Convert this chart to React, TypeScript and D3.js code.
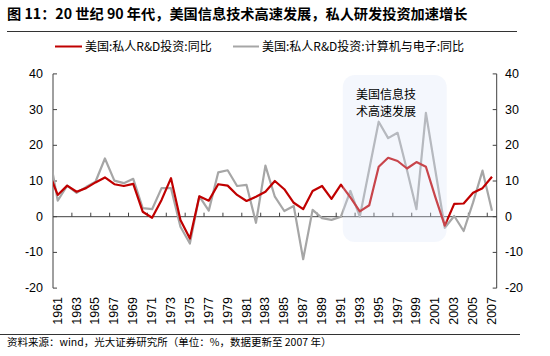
import React from "react";
import * as d3 from "d3";

const years: number[] = d3.range(1960, 2008);
const tickYears: number[] = d3.range(1961, 2008, 2);
const yTicks: number[] = [-20, -10, 0, 10, 20, 30, 40];

const seriesRedName = "美国:私人R&D投资:同比";
const seriesGrayName = "美国:私人R&D投资:计算机与电子:同比";

const redValues: number[] = [
  12.8, 6.1, 8.7, 7.0, 8.0, 9.6, 11.0, 9.1, 8.6, 9.2,
  1.4, -0.3, 4.7, 10.8, -0.9, -6.1, 5.7, 4.5, 9.1, 8.7,
  6.1, 4.4, 5.6, 7.0, 10.0, 7.7, 3.9, 2.1, 7.2, 8.6,
  5.0, 9.0, 5.4, 1.5, 3.2, 14.0, 16.5, 15.6, 13.5, 15.3,
  14.0, 5.5, -2.5, 3.6, 3.7, 6.7, 8.0, 11.2,
];

const grayValues: number[] = [
  19.0, 4.5, 8.7, 6.7, 8.3, 9.8, 16.3, 10.1, 9.4, 10.6,
  2.4, 2.1, 8.0, 8.0, -2.8, -7.5, 5.7, 1.7, 12.4, 13.0,
  8.6, 8.9, -1.7, 14.3, 5.6, 1.6, 3.0, -11.9, 1.9, -0.4,
  -0.9, 0.0, 7.2, 0.0, 13.3, 26.6, 22.0, 23.5, 13.0, 2.1,
  29.1, 13.0, -3.1, 0.2, -4.0, 4.0, 12.9, 1.7,
];

const highlightStart = 1991.2;
const highlightEnd = 2002.2;
const highlightLines = ["美国信息技", "术高速发展"];

const title = "图 11：20 世纪 90 年代，美国信息技术高速发展，私人研发投资加速增长";
const source = "资料来源：wind，光大证券研究所（单位：%，数据更新至 2007 年）";

const FONT = "'Liberation Sans', 'Noto Sans CJK SC', sans-serif";
const CJK = "'Noto Sans CJK SC', sans-serif";

export default function App() {
  const W = 550;
  const H = 356;
  const left = 53;
  const right = 496.7;
  const top = 73.9;
  const bottom = 288.1;

  const x = d3.scaleLinear().domain([1960.5, 2007.5]).range([left, right]);
  const y = d3.scaleLinear().domain([-20, 40]).range([bottom, top]);

  const line = d3
    .line<number>()
    .x((_, i) => x(years[i]))
    .y((d) => y(d));

  const boundaryTicks = d3.range(1962.5, 2007, 2);

  return (
    <svg
      width={W}
      height={H}
      style={{ position: "absolute", left: 0, top: 0, background: "#fff" }}
    >
      <defs>
        <clipPath id="plotClip">
          <rect x={left} y={top - 10} width={right - left} height={bottom - top + 20} />
        </clipPath>
      </defs>

      {/* title */}
      <text x={7} y={19} fontFamily={CJK} fontSize={14.2} fontWeight={700} fill="#000">
        {title}
      </text>
      <line x1={7} x2={517} y1={31.5} y2={31.5} stroke="#333" strokeWidth={1} />

      {/* legend */}
      <line x1={55} x2={82} y1={46.5} y2={46.5} stroke="#C00000" strokeWidth={2} />
      <text x={85} y={50.5} fontFamily={CJK} fontSize={12} fill="#000">
        {seriesRedName}
      </text>
      <line x1={233} x2={259} y1={46.5} y2={46.5} stroke="#A6A6A6" strokeWidth={2} />
      <text x={262} y={50.5} fontFamily={CJK} fontSize={12} fill="#000">
        {seriesGrayName}
      </text>

      {/* left axis */}
      <line x1={left} x2={left} y1={top} y2={bottom} stroke="#404040" strokeWidth={1} />
      {yTicks.map((t) => (
        <g key={"l" + t}>
          <line x1={left} x2={left + 4} y1={y(t)} y2={y(t)} stroke="#404040" />
          <text
            x={43}
            y={y(t)}
            textAnchor="end"
            dominantBaseline="central"
            fontFamily={FONT}
            fontSize={12.5}
            fill="#000"
          >
            {t}
          </text>
        </g>
      ))}

      {/* right axis */}
      <line x1={right} x2={right} y1={top} y2={bottom} stroke="#404040" strokeWidth={1} />
      {yTicks.map((t) => (
        <g key={"r" + t}>
          <line x1={right - 4} x2={right} y1={y(t)} y2={y(t)} stroke="#404040" />
          <text
            x={505}
            y={y(t)}
            textAnchor="start"
            dominantBaseline="central"
            fontFamily={FONT}
            fontSize={12.5}
            fill="#000"
          >
            {t}
          </text>
        </g>
      ))}

      {/* x axis at zero */}
      <line x1={left} x2={right} y1={y(0)} y2={y(0)} stroke="#404040" strokeWidth={1} />
      {boundaryTicks.map((b) => (
        <line key={"xt" + b} x1={x(b)} x2={x(b)} y1={y(0) - 4} y2={y(0)} stroke="#404040" />
      ))}

      {/* lines */}
      <g clipPath="url(#plotClip)">
        <path d={line(grayValues) || ""} fill="none" stroke="#A6A6A6" strokeWidth={2.2} strokeLinejoin="round" />
        <path d={line(redValues) || ""} fill="none" stroke="#C00000" strokeWidth={2.2} strokeLinejoin="round" />
      </g>

      {/* highlight overlay */}
      <rect
        x={x(highlightStart)}
        y={75}
        width={x(highlightEnd) - x(highlightStart)}
        height={167}
        rx={12}
        ry={12}
        fill="#DCE6F8"
        fillOpacity={0.3}
      />
      {highlightLines.map((s, i) => (
        <text
          key={s}
          x={356}
          y={93 + i * 17.5}
          dominantBaseline="central"
          fontFamily={CJK}
          fontSize={12}
          fill="#000"
        >
          {s}
        </text>
      ))}

      {/* year labels */}
      {tickYears.map((yr) => (
        <text
          key={yr}
          transform={`translate(${x(yr)},297) rotate(-90)`}
          textAnchor="end"
          dominantBaseline="central"
          fontFamily={FONT}
          fontSize={12.5}
          fill="#000"
        >
          {yr}
        </text>
      ))}

      {/* source */}
      <line x1={0} x2={520} y1={334.5} y2={334.5} stroke="#333" strokeWidth={1} />
      <text x={7} y={346} fontFamily={CJK} fontSize={10.5} fill="#000">
        {source}
      </text>
    </svg>
  );
}
